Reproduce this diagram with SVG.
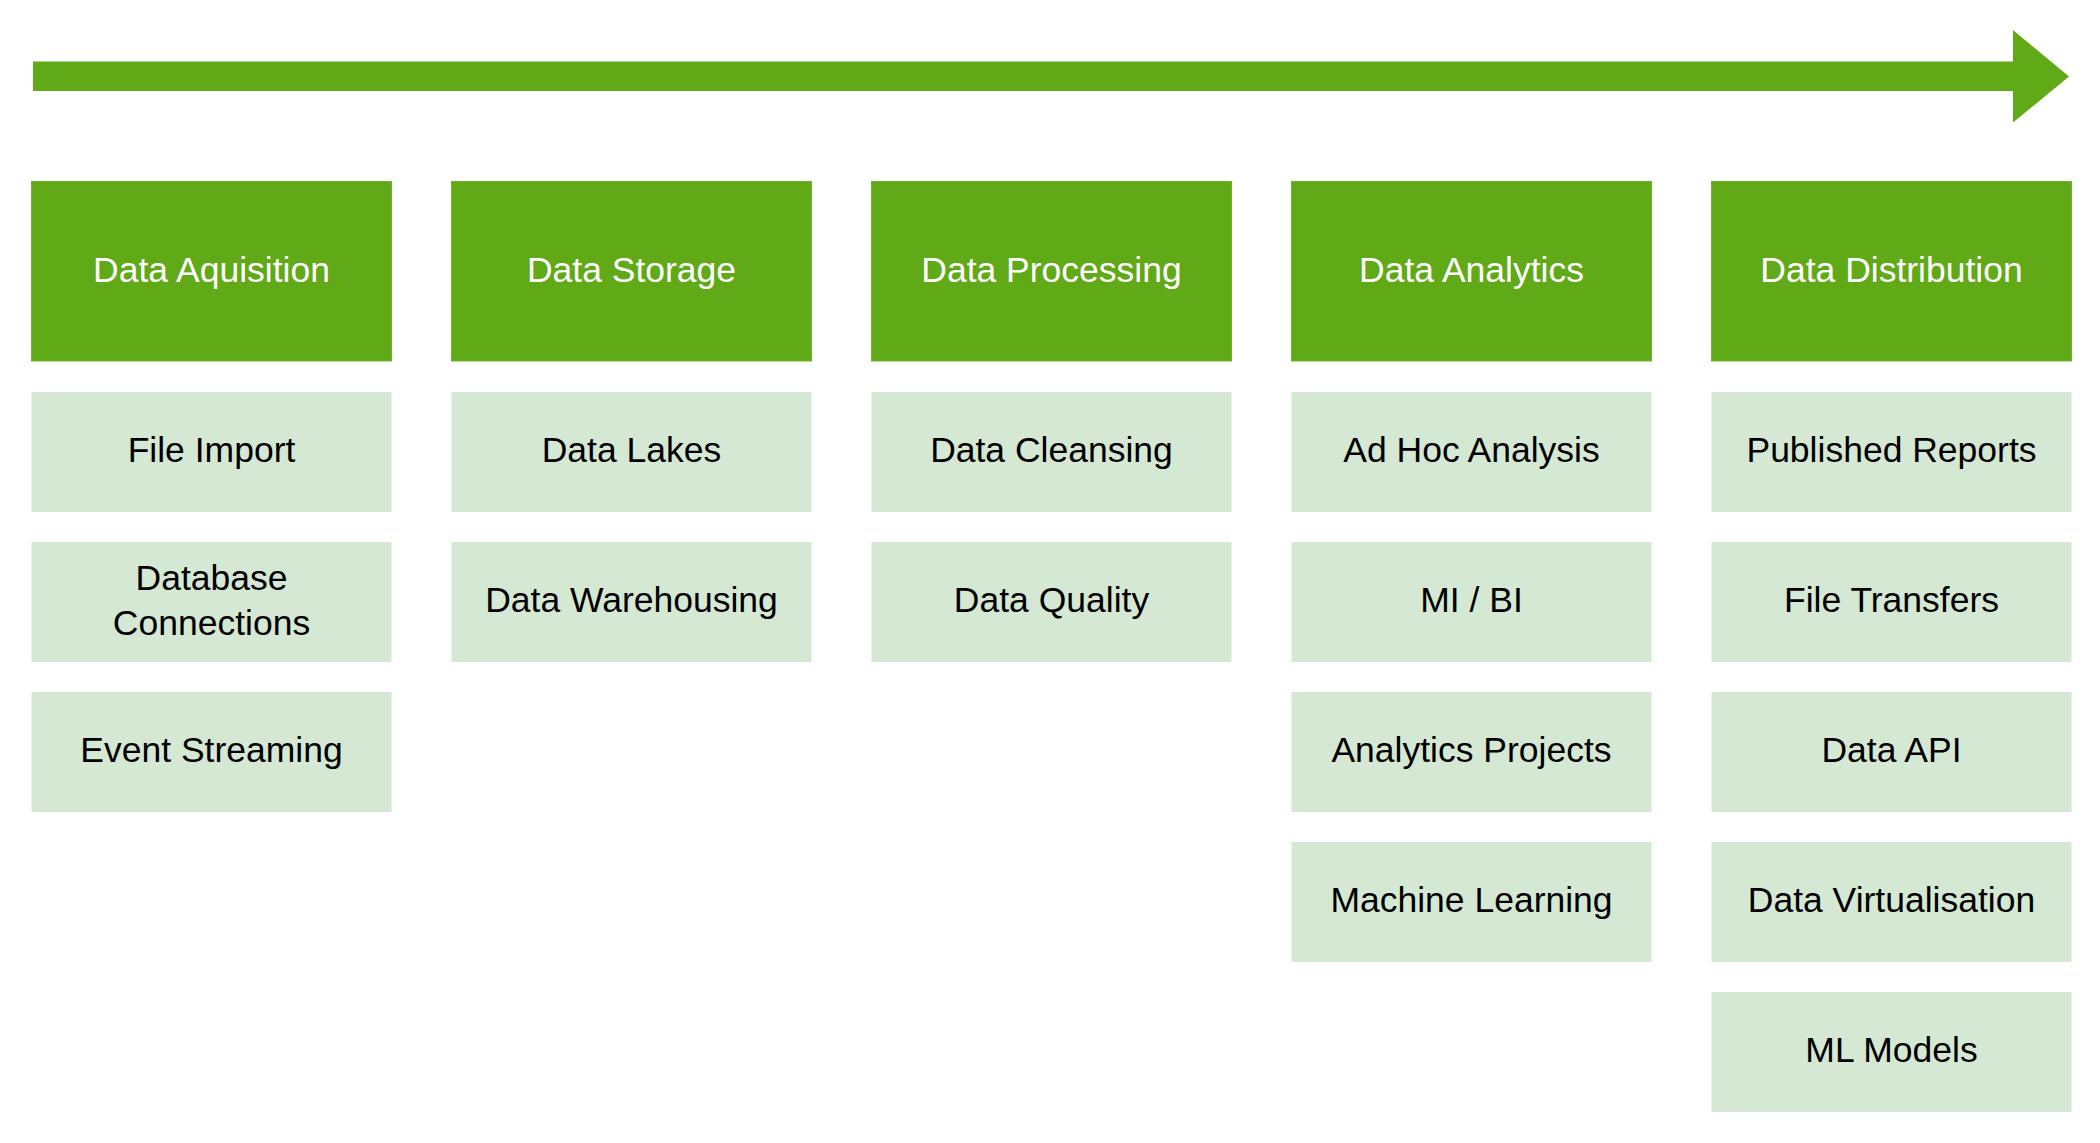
<svg xmlns="http://www.w3.org/2000/svg" width="2100" height="1143" viewBox="0 0 2100 1143">
<style>
.hd{fill:#60a917;stroke:#6fb32a;stroke-width:1}
.sb{fill:#d5e8d4;stroke:none}
.ht{font-family:"Liberation Sans",Arial,sans-serif;font-size:35.5px;fill:#ffffff;text-anchor:middle}
.st{font-family:"Liberation Sans",Arial,sans-serif;font-size:35.5px;fill:#000000;text-anchor:middle}
</style>
<rect width="2100" height="1143" fill="#ffffff"/>
<g id="connectors">
<polygon points="33,61.5 2013,61.5 2013,30 2069,76.5 2013,122.5 2013,91 33,91" fill="#60a917"/>
</g>
<g id="col1">
<g id="h1"><rect class="hd" x="31.5" y="181.5" width="360" height="179.5"/><text class="ht" x="211.5" y="281.5">Data Aquisition</text></g>
<g id="n1a"><rect class="sb" x="31.5" y="392" width="360" height="120"/><text class="st" x="211.5" y="462">File Import</text></g>
<g id="n1b"><rect class="sb" x="31.5" y="542" width="360" height="120"/><text class="st" x="211.5" y="590">Database</text><text class="st" x="211.5" y="635">Connections</text></g>
<g id="n1c"><rect class="sb" x="31.5" y="692" width="360" height="120"/><text class="st" x="211.5" y="762">Event Streaming</text></g>
</g>
<g id="col2">
<g id="h2"><rect class="hd" x="451.5" y="181.5" width="360" height="179.5"/><text class="ht" x="631.5" y="281.5">Data Storage</text></g>
<g id="n2a"><rect class="sb" x="451.5" y="392" width="360" height="120"/><text class="st" x="631.5" y="462">Data Lakes</text></g>
<g id="n2b"><rect class="sb" x="451.5" y="542" width="360" height="120"/><text class="st" x="631.5" y="612">Data Warehousing</text></g>
</g>
<g id="col3">
<g id="h3"><rect class="hd" x="871.5" y="181.5" width="360" height="179.5"/><text class="ht" x="1051.5" y="281.5">Data Processing</text></g>
<g id="n3a"><rect class="sb" x="871.5" y="392" width="360" height="120"/><text class="st" x="1051.5" y="462">Data Cleansing</text></g>
<g id="n3b"><rect class="sb" x="871.5" y="542" width="360" height="120"/><text class="st" x="1051.5" y="612">Data Quality</text></g>
</g>
<g id="col4">
<g id="h4"><rect class="hd" x="1291.5" y="181.5" width="360" height="179.5"/><text class="ht" x="1471.5" y="281.5">Data Analytics</text></g>
<g id="n4a"><rect class="sb" x="1291.5" y="392" width="360" height="120"/><text class="st" x="1471.5" y="462">Ad Hoc Analysis</text></g>
<g id="n4b"><rect class="sb" x="1291.5" y="542" width="360" height="120"/><text class="st" x="1471.5" y="612">MI / BI</text></g>
<g id="n4c"><rect class="sb" x="1291.5" y="692" width="360" height="120"/><text class="st" x="1471.5" y="762">Analytics Projects</text></g>
<g id="n4d"><rect class="sb" x="1291.5" y="842" width="360" height="120"/><text class="st" x="1471.5" y="912">Machine Learning</text></g>
</g>
<g id="col5">
<g id="h5"><rect class="hd" x="1711.5" y="181.5" width="360" height="179.5"/><text class="ht" x="1891.5" y="281.5">Data Distribution</text></g>
<g id="n5a"><rect class="sb" x="1711.5" y="392" width="360" height="120"/><text class="st" x="1891.5" y="462">Published Reports</text></g>
<g id="n5b"><rect class="sb" x="1711.5" y="542" width="360" height="120"/><text class="st" x="1891.5" y="612">File Transfers</text></g>
<g id="n5c"><rect class="sb" x="1711.5" y="692" width="360" height="120"/><text class="st" x="1891.5" y="762">Data API</text></g>
<g id="n5d"><rect class="sb" x="1711.5" y="842" width="360" height="120"/><text class="st" x="1891.5" y="912">Data Virtualisation</text></g>
<g id="n5e"><rect class="sb" x="1711.5" y="992" width="360" height="120"/><text class="st" x="1891.5" y="1062">ML Models</text></g>
</g>
</svg>
